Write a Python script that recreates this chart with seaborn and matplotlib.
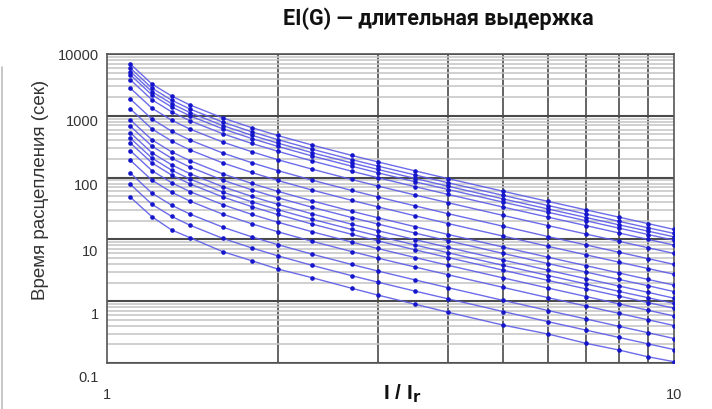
import matplotlib
matplotlib.use("Agg")
import matplotlib.pyplot as plt
from matplotlib.ticker import NullFormatter, FixedLocator, FixedFormatter
from matplotlib.lines import Line2D
from matplotlib.transforms import ScaledTranslation
import seaborn as sns
import pandas as pd

# ---- data ----
current = [1.1, 1.2, 1.3, 1.4, 1.6, 1.8, 2, 2.3, 2.7, 3, 3.5, 4, 5, 6, 7, 8, 9, 10]

curve_01 = [6860, 3270, 2090, 1500, 923, 643, 480, 336, 229, 180, 128, 96, 60, 41.1, 30, 22.9, 18, 14.5]
curve_02 = [5880, 2810, 1790, 1290, 792, 551, 412, 288, 196, 154, 110, 82.3, 51.5, 35.3, 25.7, 19.6, 15.4, 12.5]
curve_03 = [5170, 2470, 1570, 1130, 695, 484, 362, 253, 173, 136, 96.4, 72.3, 45.2, 31, 22.6, 17.2, 13.6, 11]
curve_04 = [4570, 2180, 1390, 1000, 615, 429, 320, 224, 153, 120, 85.3, 64, 40, 27.4, 20, 15.2, 12, 9.7]
curve_05 = [3810, 1820, 1160, 833, 513, 357, 267, 186, 127, 100, 71.1, 53.3, 33.3, 22.9, 16.7, 12.7, 10, 8.08]
curve_06 = [2790, 1330, 849, 610, 376, 262, 195, 137, 93.2, 73.3, 52.1, 39.1, 24.4, 16.7, 12.2, 9.3, 7.33, 5.92]
curve_07 = [1860, 886, 565, 406, 250, 174, 130, 90.9, 62, 48.8, 34.7, 26, 16.3, 11.1, 8.12, 6.19, 4.88, 3.94]
curve_08 = [1290, 614, 391, 281, 173, 121, 90, 62.9, 42.9, 33.8, 24, 18, 11.3, 7.71, 5.62, 4.28, 3.38, 2.73]
curve_09 = [857, 409, 261, 188, 115, 80.4, 60, 42, 28.6, 22.5, 16, 12, 7.5, 5.14, 3.75, 2.86, 2.25, 1.82]
curve_10 = [676, 323, 206, 148, 91, 63.4, 47.3, 33.1, 22.6, 17.8, 12.6, 9.47, 5.92, 4.06, 2.96, 2.25, 1.78, 1.43]
curve_11 = [529, 252, 161, 116, 71.2, 49.6, 37, 25.9, 17.6, 13.9, 9.87, 7.4, 4.63, 3.17, 2.31, 1.76, 1.39, 1.12]
curve_12 = [433, 207, 132, 94.8, 58.3, 40.6, 30.3, 21.2, 14.5, 11.4, 8.09, 6.07, 3.79, 2.6, 1.9, 1.44, 1.14, 0.92]
curve_13 = [362, 173, 110, 79.2, 48.7, 33.9, 25.3, 17.7, 12.1, 9.5, 6.76, 5.07, 3.17, 2.17, 1.58, 1.21, 0.95, 0.77]
curve_14 = [271, 130, 82.6, 59.4, 36.5, 25.4, 19, 13.3, 9.06, 7.13, 5.07, 3.8, 2.38, 1.63, 1.19, 0.905, 0.713, 0.576]
curve_15 = [190, 90.9, 58, 41.7, 25.6, 17.9, 13.3, 9.32, 6.36, 5, 3.56, 2.67, 1.67, 1.14, 0.833, 0.635, 0.5, 0.404]
curve_16 = [118, 56.1, 35.8, 25.7, 15.8, 11, 8.23, 5.76, 3.93, 3.09, 2.2, 1.65, 1.03, 0.706, 0.515, 0.392, 0.309, 0.249]
curve_17 = [77.6, 37, 23.6, 17, 10.4, 7.28, 5.43, 3.8, 2.59, 2.04, 1.45, 1.09, 0.679, 0.466, 0.34, 0.259, 0.204, 0.165]
curve_18 = [48.0, 23.3, 14.2, 10.7, 6.33, 4.52, 3.32, 2.40, 1.62, 1.26, 0.89, 0.66, 0.41, 0.294, 0.208, 0.162, 0.126, 0.105]

curves = [curve_01, curve_02, curve_03, curve_04, curve_05, curve_06, curve_07, curve_08, curve_09,
          curve_10, curve_11, curve_12, curve_13, curve_14, curve_15, curve_16, curve_17, curve_18]

y_tick_values = [0.1, 1, 10, 100, 1000, 10000]
y_tick_labels = ["0.1", "1", "10", "100", "1000", "10000"]
x_tick_values = [1, 10]
x_tick_labels = ["1", "10"]
x_grid_values = [2, 3, 4, 5, 6, 7, 8, 9]

title_text = "EI(G) — длительная выдержка"
ylabel_text = "Время расцепления (сек)"

# ---- long-form table ----
rows = []
for ci, vals in enumerate(curves):
    for xv, yv in zip(current, vals):
        rows.append({"I": xv, "t": yv, "curve": f"c{ci+1:02d}"})
df = pd.DataFrame(rows)

sns.set_theme(style="white")
plt.rcParams["font.family"] = ["Liberation Sans", "DejaVu Sans"]

fig = plt.figure(figsize=(7.12, 4.09), dpi=100)
ax = fig.add_axes([107 / 712, 1 - 363 / 409, 567 / 712, 309 / 409])

line_col = "#5c5ce8"
dot_col = "#1515cc"
n = len(curves)
sns.lineplot(data=df, x="I", y="t", hue="curve", palette=[line_col] * n,
             estimator=None, sort=False, linewidth=1.0, alpha=0.9, legend=False, ax=ax)
sns.scatterplot(data=df, x="I", y="t", color=dot_col, s=11, linewidth=0, legend=False, ax=ax, zorder=4)

ax.set_xscale("log")
ax.set_yscale("log")
ax.set_xlim(1, 10)
ax.set_ylim(0.1, 10000)

# y ticks
ax.yaxis.set_major_locator(FixedLocator(y_tick_values))
ax.yaxis.set_major_formatter(FixedFormatter(y_tick_labels))
minors = [m * 10.0 ** e for e in range(-1, 4) for m in range(2, 10)]
ax.yaxis.set_minor_locator(FixedLocator(minors))
ax.yaxis.set_minor_formatter(NullFormatter())
# x ticks
ax.xaxis.set_major_locator(FixedLocator(x_tick_values))
ax.xaxis.set_major_formatter(FixedFormatter(x_tick_labels))
ax.xaxis.set_minor_locator(FixedLocator(x_grid_values))
ax.xaxis.set_minor_formatter(NullFormatter())

ax.tick_params(axis="both", which="both", length=0)
ax.tick_params(axis="y", which="major", pad=6, labelsize=10.5, labelcolor="#333333")
ax.tick_params(axis="x", which="major", pad=18, labelsize=10.5, labelcolor="#333333")

ax.grid(False)
ax.yaxis.grid(True, which="minor", color="#c4c4c4", linewidth=1.1)
ax.yaxis.grid(True, which="major", color="#4a4a4a", linewidth=1.5)
ax.xaxis.grid(True, which="minor", color="#3a3a3a", linewidth=1.1, linestyle="-")
ax.set_axisbelow(True)

for s in ax.spines.values():
    s.set_color("#555555")
    s.set_linewidth(1.2)

ax.set_xlabel("")
ax.set_ylabel("")

# the reference's y labels sit a little lower than their gridlines (scan stretch)
label_shift_px = [13, 12, 11, 7, 5, 1]
fig.canvas.draw()
for lab, sh in zip(ax.get_yticklabels(), label_shift_px):
    lab.set_transform(lab.get_transform() + ScaledTranslation(0, -sh / 100, fig.dpi_scale_trans))

fig.text(438 / 712, 1 - 19 / 409, title_text, ha="center", va="center",
         fontsize=15.5, fontweight="bold", color="#111111", family=["Roboto", "DejaVu Sans"])
fig.text(41 / 712, 1 - 190 / 409, ylabel_text, ha="center", va="center", rotation=90,
         fontsize=13.5, color="#333333")
fig.text(402 / 712, 1 - 394 / 409, r"I / I$_\mathbf{r}$", ha="center", va="center",
         fontsize=15, fontweight="bold", color="#111111")

# stray border at far left of the reference image
fig.add_artist(Line2D([1.5 / 712, 1.5 / 712], [0, 1 - 67 / 409], color="#bdbdbd", linewidth=1.2))

fig.savefig("out.png", dpi=100)
